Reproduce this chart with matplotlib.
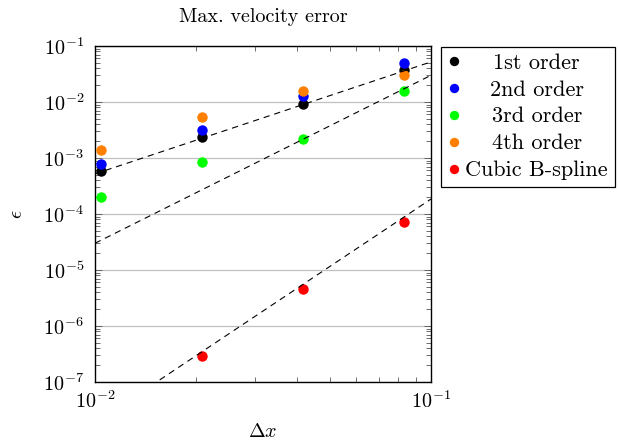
import matplotlib
matplotlib.use("Agg")
import matplotlib.pyplot as plt
import numpy as np
from matplotlib.ticker import LogLocator, NullFormatter

plt.rcParams['font.family'] = 'cmr10'
plt.rcParams['mathtext.fontset'] = 'cm'
plt.rcParams['axes.formatter.use_mathtext'] = True
plt.rcParams['lines.scale_dashes'] = False

# grid spacings
dx = [1 / 96, 1 / 48, 1 / 24, 1 / 12]

err_1st = [5.9e-4, 2.34e-3, 9.2e-3, 3.7e-2]
err_2nd = [7.8e-4, 3.16e-3, 1.28e-2, 4.9e-2]
err_3rd = [2.0e-4, 8.5e-4, 2.16e-3, 1.58e-2]
err_4th = [1.39e-3, 5.4e-3, 1.58e-2, 3.03e-2]
dx_spline = [1 / 48, 1 / 24, 1 / 12]
err_spline = [2.88e-7, 4.5e-6, 7.3e-5]

# reference slopes: (coefficient, order)
ref_coef = [5.2, 30.0, 1.85]
ref_order = [2, 3, 4]

labels = ["1st order", "2nd order", "3rd order", "4th order", "Cubic B-spline"]
colors = ["black", "#0000ff", "#00ff00", "#ff8000", "#ff0000"]

fs = 14.5
fig = plt.figure(figsize=(6.18, 4.45), dpi=100)
ax = fig.add_axes([95 / 618, 1 - 382 / 445, 336 / 618, 336 / 445])

series = [(dx, err_1st), (dx, err_2nd), (dx, err_3rd), (dx, err_4th), (dx_spline, err_spline)]
for (x, y), c, lab in zip(series, colors, labels):
    ax.plot(x, y, 'o', color=c, ms=7.5, mec=c, mew=0, label=lab, zorder=3)

xr = np.array([0.01, 0.1])
for C, p in zip(ref_coef, ref_order):
    ax.plot(xr, C * xr ** p, color='black', lw=0.8, ls=(0, (4.5, 3.5)), zorder=4)

ax.set_xscale('log')
ax.set_yscale('log')
ax.set_xlim(1e-2, 1e-1)
ax.set_ylim(1e-7, 1e-1)
ax.yaxis.set_major_locator(LogLocator(base=10, numticks=10))
ax.yaxis.set_minor_locator(LogLocator(base=10, subs=np.arange(2, 10), numticks=20))
ax.yaxis.set_minor_formatter(NullFormatter())
ax.xaxis.set_minor_formatter(NullFormatter())
ax.grid(True, which='major', axis='y', color='#c0c0c0', lw=0.9)
ax.set_axisbelow(True)

ax.tick_params(which='both', direction='in', top=True, right=True, color='#555555', labelsize=fs)
ax.tick_params(which='major', length=5, width=0.6)
ax.tick_params(which='minor', length=3.7, width=0.6)
ax.tick_params(axis='y', which='major', pad=8)
ax.tick_params(axis='x', which='major', pad=6)
for s in ax.spines.values():
    s.set_linewidth(1.0)

ax.set_title("Max. velocity error", fontsize=fs, pad=17)
ax.set_xlabel(r"$\Delta x$", fontsize=fs, labelpad=8)
ax.set_ylabel(r"$\epsilon$", fontsize=fs, labelpad=12)

leg = fig.legend(loc='upper left', bbox_to_anchor=(441 / 618, 1 - 46.5 / 445),
                 bbox_transform=fig.transFigure, borderaxespad=0, fontsize=16,
                 handlelength=0.55, handletextpad=0.25, labelspacing=0.33,
                 borderpad=0.3, markerscale=0.9, fancybox=False,
                 edgecolor='black', framealpha=1)
leg.get_frame().set_linewidth(0.9)

# centre the legend entries like pgfplots does
fig.canvas.draw()
texts = leg.get_texts()
widths = [t.get_window_extent().width for t in texts]
wmax = max(widths)
for t, w in zip(texts, widths):
    t.set_position(((wmax - w) / 2, 0))

fig.savefig("out.png", dpi=100)
